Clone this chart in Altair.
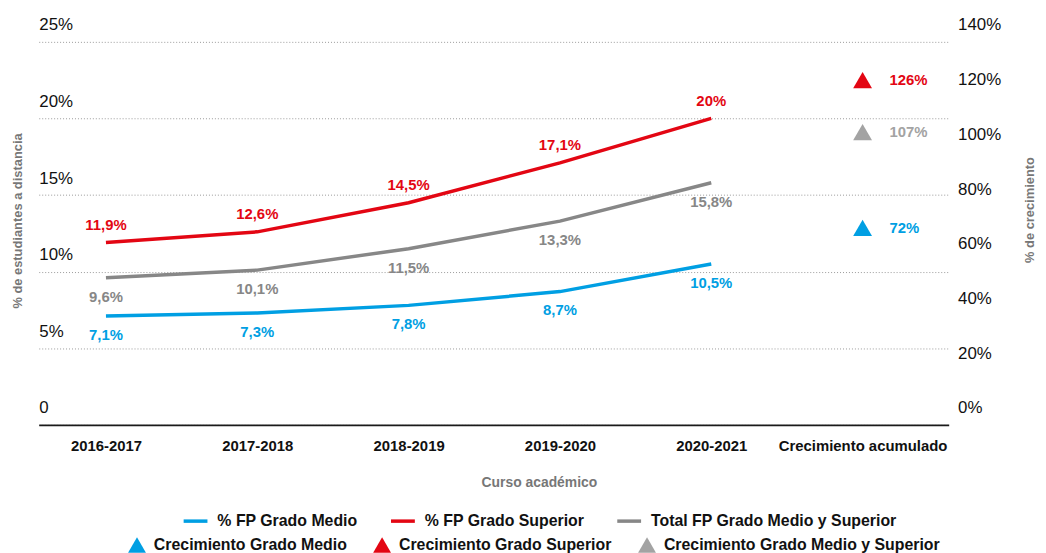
import altair as alt
import pandas as pd

# ---- data ----
cursos = ["2016-2017", "2017-2018", "2018-2019", "2019-2020", "2020-2021"]
x_categorias = cursos + ["Crecimiento acumulado"]

series = ["% FP Grado Medio", "% FP Grado Superior", "Total FP Grado Medio y Superior"]
fp_medio = [7.1, 7.3, 7.8, 8.7, 10.5]
fp_superior = [11.9, 12.6, 14.5, 17.1, 20.0]
fp_total = [9.6, 10.1, 11.5, 13.3, 15.8]

crec_nombres = ["Crecimiento Grado Medio", "Crecimiento Grado Superior",
                "Crecimiento Grado Medio y Superior"]
crec_valores = [72, 126, 107]

left_ticks = [0, 5, 10, 15, 20, 25]
right_ticks = [0, 20, 40, 60, 80, 100, 120, 140]

line_colors = ["#009fe3", "#e30613", "#878787"]
tri_colors = ["#009fe3", "#e30613", "#a3a3a3"]


def fmt(v):
    s = f"{v:.1f}".replace(".", ",")
    if s.endswith(",0"):
        s = s[:-2]
    return s + "%"


rows = []
for name, vals in zip(series, [fp_medio, fp_superior, fp_total]):
    for c, v in zip(cursos, vals):
        rows.append({"curso": c, "pos": x_categorias.index(c), "serie": name,
                     "valor": v, "etiqueta": fmt(v)})
df_lines = pd.DataFrame(rows)

df_tri = pd.DataFrame({
    "curso": ["Crecimiento acumulado"] * 3,
    "pos": [x_categorias.index("Crecimiento acumulado")] * 3,
    "crec_name": crec_nombres,
    "crec": crec_valores,
    "etiqueta": [f"{v}%" for v in crec_valores],
})

FONT = "Liberation Sans"
cat_js = "[" + ",".join("'" + c + "'" for c in x_categorias) + "]"

x_scale = alt.Scale(domain=[-0.444, 5.569], nice=False, zero=False)
x_enc = alt.X(
    "pos:Q",
    scale=x_scale,
    axis=alt.Axis(
        title="Curso académico", values=list(range(len(x_categorias))),
        labelExpr=cat_js + "[datum.value]",
        labelAngle=0, ticks=False, tickSize=0, labelFlush=False, labelOverlap=False,
        domain=True, domainColor="#1a1a1a", domainWidth=2,
        labelFont=FONT, labelFontSize=15, labelFontWeight="bold", labelColor="#111111",
        labelPadding=14,
        titleFont=FONT, titleFontSize=14, titleFontWeight="bold", titleColor="#777777",
        titleX=504, titleY=58, titleBaseline="middle", grid=False,
    ),
)

y_left_scale = alt.Scale(domain=[0, 25], nice=False, zero=True)
color_lines = alt.Scale(domain=series, range=line_colors)

lines = alt.Chart(df_lines).mark_line(strokeWidth=3.5).encode(
    x=x_enc,
    y=alt.Y(
        "valor:Q", scale=y_left_scale,
        axis=alt.Axis(
            values=left_ticks, orient="left", domain=False, ticks=False, tickSize=0,
            labelExpr="datum.value == 0 ? '0' : datum.value + '%'",
            labelAlign="left", labelPadding=0, labelOffset=-17,
            labelFont=FONT, labelFontSize=17, labelColor="#111111",
            grid=True, gridColor="#9a9a9a", gridDash=[1, 2], gridWidth=1,
            title="% de estudiantes a distancia", titleFont=FONT, titleFontSize=13,
            titleFontWeight="bold", titleColor="#777777", titleAngle=270,
            titleX=-21, titleY=180, titleBaseline="middle",
        ),
    ),
    color=alt.Color(
        "serie:N", scale=color_lines,
        legend=alt.Legend(
            orient="none", legendX=144, legendY=469, direction="horizontal", title=None,
            symbolType="stroke", symbolSize=576, symbolStrokeWidth=3.5,
            labelFont=FONT, labelFontSize=16, labelFontWeight="bold", labelColor="#111111",
            labelOffset=8, columnPadding=26, padding=0, labelLimit=500,
        ),
    ),
)

lab_top = alt.Chart(df_lines).transform_filter(
    alt.datum.serie == series[1]
).mark_text(dy=-18, fontSize=15, fontWeight="bold", font=FONT).encode(
    x=alt.X("pos:Q", scale=x_scale),
    y=alt.Y("valor:Q", scale=y_left_scale),
    text="etiqueta:N",
    color=alt.Color("serie:N", scale=color_lines, legend=None),
)

lab_bottom = alt.Chart(df_lines).transform_filter(
    alt.datum.serie != series[1]
).mark_text(dy=19, fontSize=15, fontWeight="bold", font=FONT).encode(
    x=alt.X("pos:Q", scale=x_scale),
    y=alt.Y("valor:Q", scale=y_left_scale),
    text="etiqueta:N",
    color=alt.Color("serie:N", scale=color_lines, legend=None),
)

left = alt.layer(lines, lab_top, lab_bottom)

y_right_scale = alt.Scale(domain=[0, 140], nice=False, zero=True)
color_tri = alt.Scale(domain=crec_nombres, range=tri_colors)

tri = alt.Chart(df_tri).mark_point(shape="triangle-up", filled=True, size=360, opacity=1).encode(
    x=alt.X("pos:Q", scale=x_scale),
    y=alt.Y(
        "crec:Q", scale=y_right_scale,
        axis=alt.Axis(
            values=right_ticks, orient="right", domain=False, ticks=False, tickSize=0,
            labelExpr="datum.value + '%'", labelAlign="left", labelPadding=9,
            labelOffset=-17, labelFont=FONT, labelFontSize=17, labelColor="#111111",
            grid=False,
            title="% de crecimiento", titleFont=FONT, titleFontSize=13,
            titleFontWeight="bold", titleColor="#777777", titleAngle=270,
            titleX=81, titleY=169, titleBaseline="middle",
        ),
    ),
    color=alt.Color(
        "crec_name:N", scale=color_tri,
        legend=alt.Legend(
            orient="none", legendX=90, legendY=498, direction="horizontal", title=None,
            symbolType="triangle-up", symbolSize=324, symbolOpacity=1, symbolStrokeWidth=0,
            labelFont=FONT, labelFontSize=16, labelFontWeight="bold", labelColor="#111111",
            labelOffset=8, columnPadding=26, padding=0, labelLimit=500,
        ),
    ),
)

tri_lab = alt.Chart(df_tri).mark_text(
    align="left", dx=27, fontSize=15, fontWeight="bold", font=FONT
).encode(
    x=alt.X("pos:Q", scale=x_scale),
    y=alt.Y("crec:Q", scale=y_right_scale),
    text="etiqueta:N",
    color=alt.Color("crec_name:N", scale=color_tri, legend=None),
)

right = alt.layer(tri, tri_lab)

chart = alt.layer(left, right).resolve_scale(
    y="independent", color="independent"
).properties(
    width=917, height=386,
    autosize=alt.AutoSizeParams(type="none"),
    padding={"left": 31, "top": 32, "right": 90, "bottom": 127},
).configure(font=FONT).configure_view(stroke=None)

chart.save("out.html", embed_options={"renderer": "svg", "actions": False})
